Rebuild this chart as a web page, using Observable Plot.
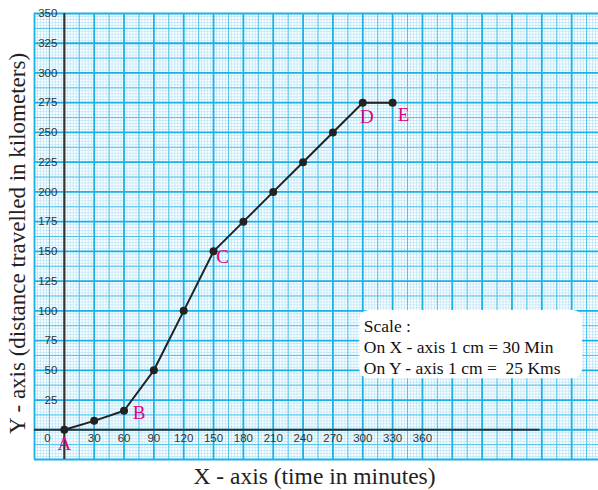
<!DOCTYPE html>
<html>
<head>
<meta charset="utf-8">
<script src="https://cdn.jsdelivr.net/npm/d3@7"></script>
<script src="https://cdn.jsdelivr.net/npm/@observablehq/plot@0.6"></script>
<style>
  html, body { margin: 0; padding: 0; background: #fff; }
  #chart svg { display: block; }
</style>
</head>
<body>
<div id="chart"></div>
<script>
// ---- data ----
const times = [0, 30, 60, 90, 120, 150, 180, 210, 240, 270, 300, 330];
const distances = [0, 7.5, 16, 50, 100, 150, 175, 200, 225, 250, 275, 275];
const pointNames = ["A", "B", "C", "D", "E"];
const pointTimes = [0, 60, 150, 300, 330];
const pointDists = [0, 16, 150, 275, 275];
const xTickLabels = [30, 60, 90, 120, 150, 180, 210, 240, 270, 300, 330, 360];
const yTickLabels = [25, 50, 75, 100, 125, 150, 175, 200, 225, 250, 275, 300, 325, 350];
const xTitle = "X - axis (time in minutes)";
const yTitle = "Y - axis (distance travelled in kilometers)";
const scaleNote = ["Scale :", "On X - axis 1 cm = 30 Min", "On Y - axis 1 cm =  25 Kms"];

// ---- layout ----
const xDomain = [-30, 537];
const yDomain = [-25, 350];
const fineX = d3.range(-30, 540, 3);
const midX = d3.range(-15, 540, 30);
const majorX = d3.range(-30, 540, 30);
const fineY = d3.range(-25, 351, 2.5);
const midY = d3.range(-12.5, 351, 25);
const majorY = d3.range(-25, 351, 25);

const series = times.map((t, i) => ({time: t, dist: distances[i]}));
const named = pointNames.map((n, i) => ({name: n, time: pointTimes[i], dist: pointDists[i]}));
const labelOffsets = {A: [0, 14], B: [15, 2], C: [9, 6], D: [4, 14], E: [11, 12]};

const serif = "'Liberation Serif', 'Times New Roman', serif";
const sans = "'Liberation Sans', Arial, sans-serif";

const boxX = [297, 521];
const boxY = [43, 100.3];

const chart = Plot.plot({
  width: 598,
  height: 490,
  marginTop: 13,
  marginBottom: 31,
  marginLeft: 34,
  marginRight: 0,
  x: {domain: xDomain, axis: null},
  y: {domain: yDomain, axis: null},
  style: {background: "#fff", overflow: "visible"},
  marks: [
    Plot.ruleX(fineX, {stroke: "#bde6f8", strokeWidth: 0.8}),
    Plot.ruleY(fineY, {stroke: "#bde6f8", strokeWidth: 0.8}),
    Plot.ruleX(midX, {stroke: "#4cc2ec", strokeWidth: 1}),
    Plot.ruleY(midY, {stroke: "#4cc2ec", strokeWidth: 1}),
    Plot.ruleX(majorX, {stroke: "#1ab1e6", strokeWidth: 1.8}),
    Plot.ruleY(majorY, {stroke: "#1ab1e6", strokeWidth: 1.8}),
    // axes
    Plot.ruleX([0], {stroke: "#333", strokeWidth: 2}),
    Plot.ruleY([0], {x1: -30, x2: 478, stroke: "#333", strokeWidth: 2}),
    // tick labels
    Plot.text(yTickLabels, {x: 0, y: d => d, dx: -7, textAnchor: "end", fontSize: 11.5, fill: "#333", fontFamily: sans}),
    Plot.text(xTickLabels, {x: d => d, y: 0, dy: 9, fontSize: 11.5, fill: "#333", fontFamily: sans}),
    Plot.text([0], {x: 0, y: 0, dx: -17, dy: 9, fontSize: 11.5, fill: "#333", fontFamily: sans}),
    // data line
    Plot.line(series, {x: "time", y: "dist", stroke: "#222", strokeWidth: 2}),
    Plot.dot(series, {x: "time", y: "dist", r: 4, fill: "#222"}),
    // point names
    ...named.map(p => Plot.text([p], {
      x: "time", y: "dist", text: "name",
      dx: labelOffsets[p.name][0], dy: labelOffsets[p.name][1],
      fill: "#e6007e", fontSize: 19, fontFamily: serif
    })),
    // scale box
    Plot.rect([0], {x1: boxX[0], x2: boxX[1], y1: boxY[0], y2: boxY[1], fill: "#fff", rx: 9}),
    Plot.text([scaleNote.join("\n")], {
      x: boxX[0], y: boxY[1], dx: 4, dy: 6.5, textAnchor: "start", lineAnchor: "top",
      lineHeight: 1.21, fontSize: 17.5, fill: "#111", fontFamily: serif
    }),
    // axis titles
    Plot.text([xTitle], {frameAnchor: "bottom", textAnchor: "middle", lineAnchor: "middle", dy: 17, dx: -2, fontSize: 23.5, fill: "#222", fontFamily: serif}),
    Plot.text([yTitle], {frameAnchor: "left", textAnchor: "middle", lineAnchor: "middle", dx: -17, dy: 7, rotate: -90, fontSize: 23, fill: "#222", fontFamily: serif})
  ]
});
document.getElementById("chart").appendChild(chart);
</script>
</body>
</html>
